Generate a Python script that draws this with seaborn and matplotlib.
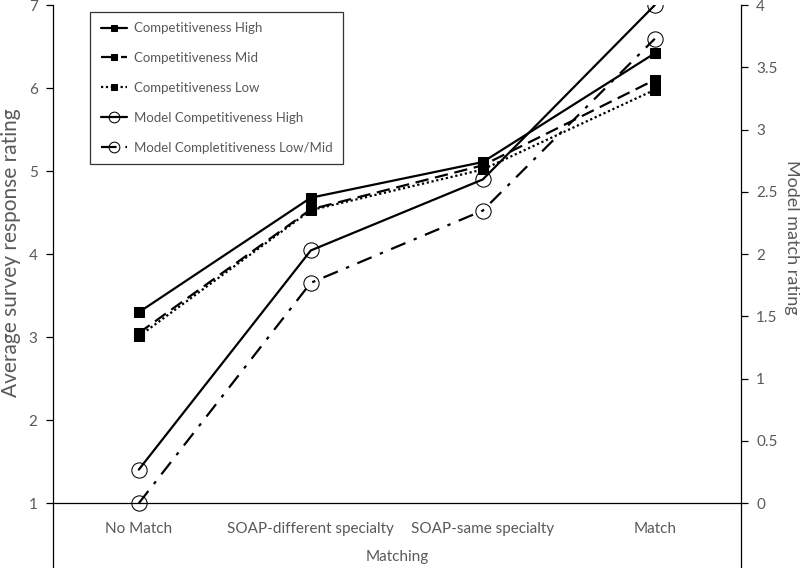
import pandas as pd
import seaborn as sns
import matplotlib.pyplot as plt

# data
categories = ["No Match", "SOAP-different specialty", "SOAP-same specialty", "Match"]
comp_high = [3.30, 4.68, 5.11, 6.42]
comp_mid = [3.05, 4.54, 5.07, 6.10]
comp_low = [3.01, 4.53, 5.02, 5.98]
model_high = [0.27, 2.03, 2.60, 4.00]
model_lowmid = [0.00, 1.77, 2.35, 3.73]

sns.set_style("white")
plt.rcParams['font.family'] = ['Lato', 'DejaVu Sans']
grey = "#595959"

fig = plt.figure(figsize=(8, 5.68), dpi=100)
ax = fig.add_axes([0.066, 0.0, 0.86, 0.991])
ax2 = ax.twinx()

survey = [
    ("Competitiveness High", comp_high, "-"),
    ("Competitiveness Mid", comp_mid, (0, (6, 3))),
    ("Competitiveness Low", comp_low, (0, (1, 1.2))),
]
model = [
    ("Model Competitiveness High", model_high, "-"),
    ("Model Completitiveness Low/Mid", model_lowmid, (0, (7, 4, 1.5, 4))),
]

for name, vals, ls in survey:
    df = pd.DataFrame({"Matching": categories, "val": vals})
    sns.lineplot(data=df, x="Matching", y="val", ax=ax, color="black",
                 linestyle=ls, linewidth=1.6, marker="s", markersize=7,
                 markerfacecolor="black", markeredgecolor="black", label=name)
for name, vals, ls in model:
    df = pd.DataFrame({"Matching": categories, "val": vals})
    sns.lineplot(data=df, x="Matching", y="val", ax=ax2, color="black",
                 linestyle=ls, linewidth=1.6, marker="o", markersize=11,
                 markerfacecolor="none", markeredgecolor="black", label=name)

# both axes share the same vertical mapping: left 1..7 <-> right 0..4
lo = 0.22
ax.set_ylim(lo, 7)
ax2.set_ylim((lo - 1) * 4 / 6, 4)
ax.set_xlim(-0.5, 3.5)
ax.set_yticks(range(1, 8))
ax2.set_yticks([0, 0.5, 1, 1.5, 2, 2.5, 3, 3.5, 4])
ax2.set_yticklabels(["0", "0.5", "1", "1.5", "2", "2.5", "3", "3.5", "4"])

ax.spines['bottom'].set_position(('data', 1))
ax.spines['top'].set_visible(False)
ax2.spines['top'].set_visible(False)
ax2.spines['bottom'].set_visible(False)
for sp in ['left', 'bottom']:
    ax.spines[sp].set_color("black")
    ax.spines[sp].set_linewidth(0.9)
ax2.spines['right'].set_color("black")
ax2.spines['right'].set_linewidth(0.9)
ax.spines['right'].set_visible(False)
ax2.spines['left'].set_visible(False)

ax.tick_params(axis='y', left=True, length=5, width=0.9, color="black",
               labelsize=11, labelcolor=grey, pad=6)
ax.tick_params(axis='x', bottom=False, labelsize=11, labelcolor=grey, pad=10)
ax2.tick_params(axis='y', right=True, length=5, width=0.9, color="black",
                labelsize=11, labelcolor=grey, pad=6)

ax.set_xlabel("Matching", fontsize=11, color=grey, labelpad=10)
ax.set_ylabel("Average survey response rating", fontsize=15, color=grey, va="center")
ax.yaxis.set_label_coords(-0.061, 0.56)
ax2.set_ylabel("Model match rating", fontsize=13, color=grey, rotation=270, va="center")
ax2.yaxis.set_label_coords(1.074, 0.588)

ax2.get_legend().remove()
h1, l1 = ax.get_legend_handles_labels()
h2, l2 = ax2.get_legend_handles_labels()
leg = ax.legend(h1 + h2, l1 + l2, loc="upper left", bbox_to_anchor=(0.045, 1.0),
                frameon=True, fancybox=False, edgecolor="black", fontsize=9.5,
                labelspacing=1.35, handlelength=2.0, handletextpad=0.5,
                borderpad=0.8, markerscale=0.7)
leg.get_frame().set_linewidth(0.9)
for t in leg.get_texts():
    t.set_color(grey)

fig.savefig("out.png", dpi=100)
